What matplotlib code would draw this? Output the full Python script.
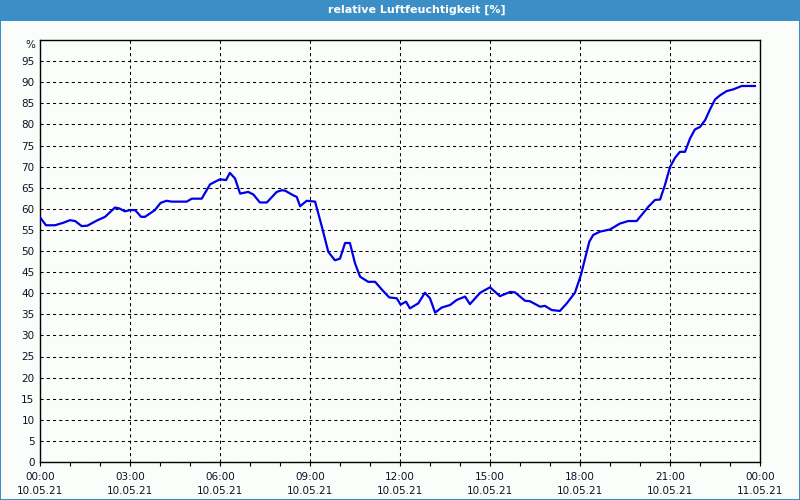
import numpy as np
import matplotlib
matplotlib.use('Agg')
import matplotlib.pyplot as plt
from matplotlib.patches import Rectangle

# hours since 10.05.21 00:00 and relative humidity in %
hours = [0.03, 0.2, 0.5, 0.78, 1.0, 1.17, 1.39, 1.58, 1.89, 2.17, 2.5, 2.64, 2.83,
         3.0, 3.17, 3.37, 3.5, 3.83, 4.02, 4.22, 4.39, 4.89, 5.06, 5.39, 5.67, 5.89,
         6.0, 6.2, 6.33, 6.5, 6.67, 6.94, 7.11, 7.33, 7.56, 7.89, 8.06, 8.17, 8.44,
         8.56, 8.67, 8.89, 9.17, 9.39, 9.61, 9.83, 10.0, 10.17, 10.33, 10.5, 10.67,
         10.94, 11.17, 11.39, 11.64, 11.89, 12.02, 12.2, 12.33, 12.61, 12.83, 13.0,
         13.17, 13.39, 13.67, 13.89, 14.17, 14.33, 14.67, 15.0, 15.33, 15.67, 15.83,
         16.17, 16.33, 16.67, 16.83, 17.06, 17.33, 17.56, 17.83, 18.03, 18.31, 18.44,
         18.67, 19.0, 19.33, 19.61, 19.89, 20.28, 20.5, 20.67, 20.83, 21.0, 21.17,
         21.33, 21.5, 21.67, 21.83, 22.0, 22.17, 22.33, 22.5, 22.67, 22.89, 23.11,
         23.39, 23.83]
humidity = [57.7, 56.1, 56.1, 56.7, 57.3, 57.1, 55.9, 56.0, 57.2, 58.1, 60.3, 60.1, 59.4,
            59.7, 59.7, 58.1, 58.1, 59.7, 61.4, 61.9, 61.7, 61.7, 62.4, 62.4, 65.8, 66.6,
            67.0, 66.8, 68.5, 67.2, 63.6, 64.0, 63.4, 61.5, 61.5, 64.0, 64.4, 64.3, 63.2,
            62.8, 60.6, 61.9, 61.7, 55.9, 49.8, 47.8, 48.2, 51.9, 51.9, 47.1, 43.9,
            42.7, 42.7, 40.9, 39.0, 38.8, 37.3, 38.0, 36.4, 37.6, 40.1, 38.8,
            35.4, 36.6, 37.2, 38.4, 39.2, 37.4, 40.1, 41.4, 39.3, 40.3, 40.2,
            38.2, 38.1, 36.8, 37.0, 36.0, 35.8, 37.6, 40.1, 44.3, 52.2, 53.8,
            54.6, 55.1, 56.5, 57.1, 57.1, 60.5, 62.1, 62.2, 65.6, 69.9, 72.1,
            73.5, 73.5, 76.7, 78.8, 79.4, 81.0, 83.5, 85.9, 86.9, 87.9, 88.3,
            89.1, 89.1]

tick_hours = [0, 3, 6, 9, 12, 15, 18, 21, 24]
tick_labels = ['00:00\n10.05.21', '03:00\n10.05.21', '06:00\n10.05.21', '09:00\n10.05.21',
               '12:00\n10.05.21', '15:00\n10.05.21', '18:00\n10.05.21', '21:00\n10.05.21',
               '00:00\n11.05.21']
y_ticks = list(range(0, 100, 5))
title = 'relative Luftfeuchtigkeit [%]'

bg = '#fbfdfa'
frame_blue = '#3c8fc6'
txt = '#101028'

fig = plt.figure(figsize=(8, 5), dpi=100, facecolor=bg)

# title bar and window frame
fig.patches.append(Rectangle((0, 0.959), 1, 0.041, transform=fig.transFigure,
                             facecolor=frame_blue, edgecolor='none', zorder=0))
fig.patches.append(Rectangle((0.0006, 0.001), 0.9988, 0.998, transform=fig.transFigure,
                             facecolor='none', edgecolor=frame_blue, lw=1.5, zorder=5))
fig.text(0.521, 0.9795, title, color='white', fontsize=8, fontweight='bold',
         ha='center', va='center')

ax = fig.add_axes([0.05, 0.076, 0.90, 0.844])
ax.set_facecolor(bg)
ax.plot(hours, humidity, color='#0000e6', lw=1.6, zorder=3)

ax.set_xlim(0, 24)
ax.set_ylim(0, 100)
ax.set_xticks(tick_hours)
ax.set_xticklabels(tick_labels, fontsize=7.5, color=txt, linespacing=1.55)
ax.set_xticks(np.arange(0, 25, 1), minor=True)
ax.set_yticks(y_ticks)
ax.set_yticklabels([str(v) for v in y_ticks], fontsize=7.5, color=txt)
ax.tick_params(axis='x', which='both', direction='out', length=3, width=0.8, pad=4)
ax.tick_params(axis='y', length=0, pad=4)

ax.grid(True, which='major', color='black', lw=0.75, linestyle=(0, (3, 3)))

for s in ax.spines.values():
    s.set_color('black')
    s.set_linewidth(1.0)

ax.text(-0.006, 0.988, '%', transform=ax.transAxes, ha='right', va='center',
        fontsize=7.5, color=txt)

fig.savefig('out.png', dpi=100, facecolor=bg)
